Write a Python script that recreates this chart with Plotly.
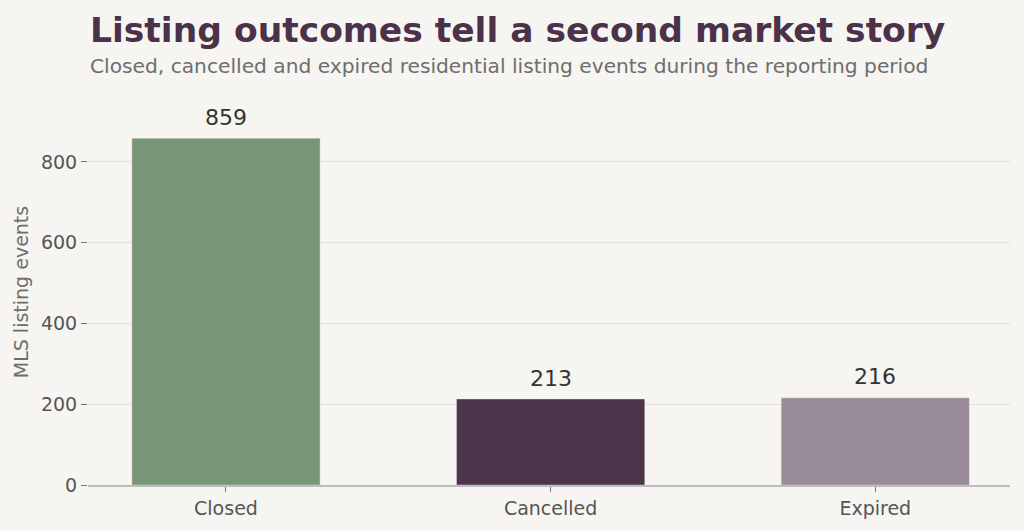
import plotly.graph_objects as go

categories = ["Closed", "Cancelled", "Expired"]
values = [859, 213, 216]
bar_colors = ["#789577", "#4c344b", "#9a8b98"]
y_ticks = [0, 200, 400, 600, 800]

title_text = "Listing outcomes tell a second market story"
subtitle_text = "Closed, cancelled and expired residential listing events during the reporting period"
y_title = "MLS listing events"

FONT = "DejaVu Sans"
BG = "#f6f5f1"

fig = go.Figure()
fig.add_trace(go.Bar(
    x=categories, y=values, width=0.58,
    marker=dict(color=bar_colors, line=dict(color="rgba(255,255,255,0.35)", width=1)),
    hoverinfo="x+y", showlegend=False,
))

annotations = []
for c, v in zip(categories, values):
    annotations.append(dict(x=c, y=v, xref="x", yref="y", text=str(v), showarrow=False,
                            yanchor="middle", yshift=21,
                            font=dict(family=FONT, size=22, color="#333333")))

T, B = 99, 46
H_PLOT = 531 - T - B
BOTTOM = 531 - B
annotations.append(dict(x=0, xref="paper", xshift=0, y=(BOTTOM - 30) / H_PLOT, yref="paper",
                        xanchor="left", yanchor="middle", showarrow=False,
                        text="<b>" + title_text + "</b>",
                        font=dict(family=FONT, size=34.5, color="#4b3149")))
annotations.append(dict(x=0, xref="paper", xshift=0, y=(BOTTOM - 66) / H_PLOT, yref="paper",
                        xanchor="left", yanchor="middle", showarrow=False,
                        text=subtitle_text,
                        font=dict(family=FONT, size=20.2, color="#6e6e6e")))

fig.update_layout(
    width=1024, height=531,
    margin=dict(l=88, r=14, t=T, b=B),
    paper_bgcolor=BG, plot_bgcolor=BG,
    font=dict(family=FONT, size=18, color="#555555"),
    annotations=annotations,
)
fig.update_xaxes(
    range=[-0.425, 2.415], showgrid=False, showline=True, linecolor="#bdbdbd", linewidth=1.5,
    ticks="outside", ticklen=5, tickcolor="#777777",
    tickfont=dict(family=FONT, size=19, color="#555555"),
)
fig.update_yaxes(
    range=[0, 956], tickvals=y_ticks, showgrid=True, gridcolor="#e1e0dc", gridwidth=1.2,
    zeroline=False, showline=False, ticks="outside", ticklen=6, tickcolor="#777777",
    tickfont=dict(family=FONT, size=19, color="#555555"),
    title=dict(text=y_title, font=dict(family=FONT, size=19, color="#6e6e6e"), standoff=7),
)

fig.write_html("out.html", config={"displayModeBar": False},
               post_script="document.body.style.margin='0';")
